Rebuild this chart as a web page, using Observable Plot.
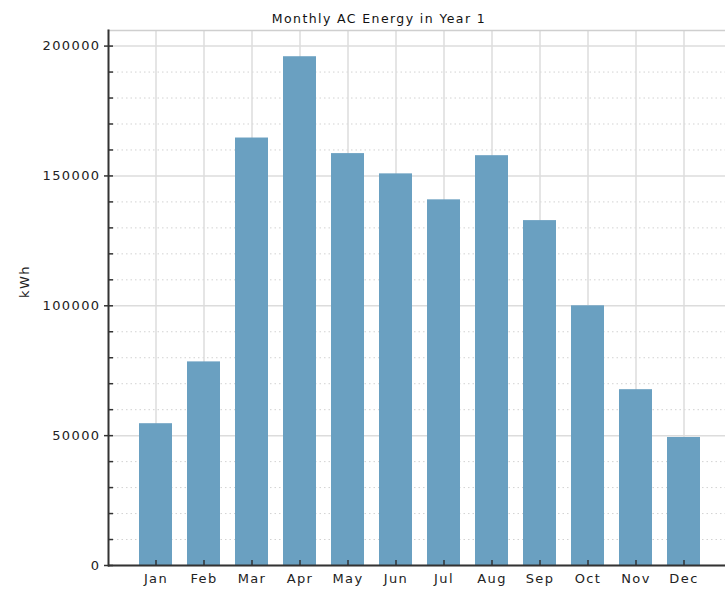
<!DOCTYPE html>
<html>
<head>
<meta charset="utf-8">
<script src="https://cdn.jsdelivr.net/npm/d3@7"></script>
<script src="https://cdn.jsdelivr.net/npm/@observablehq/plot@0.6"></script>
<style>
  html, body { margin: 0; padding: 0; background: #fff; }
  #chart { width: 725px; height: 596px; }
</style>
</head>
<body>
<div id="chart"></div>
<script>
const title = "Monthly AC Energy in Year 1";
const yLabel = "kWh";
const months = ["Jan","Feb","Mar","Apr","May","Jun","Jul","Aug","Sep","Oct","Nov","Dec"];
const energy = [54600, 78400, 164600, 195900, 158600, 150800, 140800, 157800, 132800, 100000, 67700, 49300];
const majorTicks = [0, 50000, 100000, 150000, 200000];
const minorTicks = [10000, 20000, 30000, 40000, 60000, 70000, 80000, 90000, 110000, 120000, 130000, 140000, 160000, 170000, 180000, 190000];

const data = months.map((m, i) => ({month: m, kwh: energy[i]}));

const font = "'DejaVu Sans', sans-serif";

const chart = Plot.plot({
  width: 725,
  height: 596,
  marginTop: 30,
  marginLeft: 108,
  marginRight: 0,
  marginBottom: 31,
  style: {fontFamily: font, fontSize: "13px", color: "#222", background: "#fff", letterSpacing: "1.4px"},
  x: {domain: months, range: [137.5, 701.5], paddingInner: 0.316, paddingOuter: 0, label: null},
  y: {domain: [0, 206000], label: null},
  marks: [
    Plot.ruleY(minorTicks, {stroke: "#d2d2d2", strokeDasharray: "1.5,3", strokeWidth: 1}),
    Plot.ruleY(majorTicks, {stroke: "#dcdcdc", strokeWidth: 1.5}),
    Plot.gridX({stroke: "#dcdcdc", strokeOpacity: 1, strokeWidth: 1.5}),
    Plot.frame({anchor: "top", stroke: "#cfcfcf", strokeWidth: 1.5}),
    Plot.barY(data, {x: "month", y: "kwh", fill: "#6aa0c1"}),
    Plot.ruleY([0], {stroke: "#333", strokeWidth: 2}),
    Plot.frame({anchor: "left", stroke: "#333", strokeWidth: 2}),
    Plot.axisY(minorTicks, {tickSize: 5, dx: 5, fill: "none", stroke: "#333", strokeWidth: 1.5, label: null}),
    Plot.axisY(majorTicks, {tickSize: 9, dx: 5, fill: "none", stroke: "#333", strokeWidth: 1.5, label: null}),
    Plot.axisY(majorTicks, {tickSize: 0, tickPadding: 8, tickFormat: d => String(d), fill: "#222", label: null}),
    Plot.axisX({tickSize: 5, dy: -5, fill: "none", stroke: "#333", strokeWidth: 1.5, label: null}),
    Plot.axisX({tickSize: 0, tickPadding: 8, fill: "#222", label: null}),
    Plot.text([yLabel], {frameAnchor: "left", rotate: -90, dx: -84, fill: "#222", fontSize: 13}),
    Plot.text([title], {frameAnchor: "top", dy: -16, dx: -38, fill: "#111", fontSize: 12.5})
  ]
});

document.getElementById("chart").appendChild(chart);
</script>
</body>
</html>
